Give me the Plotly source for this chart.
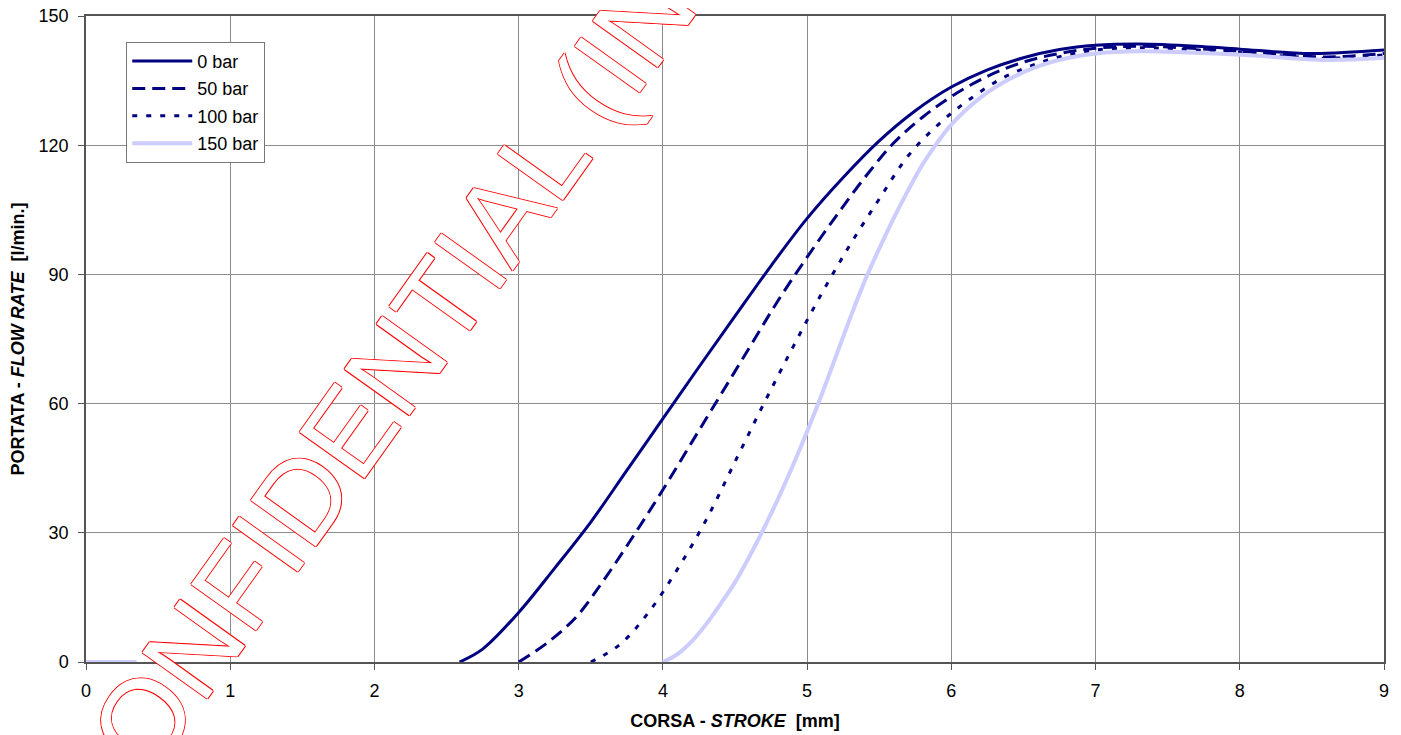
"""Flow rate vs stroke curves at different pressures."""

import plotly.graph_objects as go

NAVY = "#000080"
LAVENDER = "#CCCCFF"
GRID = "#8c8c8c"

# stroke [mm] / flow rate [l/min]
stroke_0bar = [2.59, 2.75, 3.0, 3.25, 3.5, 3.75, 4.0, 4.25, 4.5, 4.75, 5.0, 5.25,
               5.5, 5.75, 6.0, 6.25, 6.5, 6.75, 7.0, 7.3, 7.7, 8.0, 8.5, 9.0]
flow_0bar = [0, 3, 11.5, 21.8, 32.5, 44.5, 56.5, 68.5, 80.3, 92, 103, 112.5,
             121, 128, 133.5, 137.5, 140.3, 142.2, 143.2, 143.5, 143, 142.3, 141.3, 142.1]

stroke_50bar = [3.0, 3.2, 3.4, 3.6, 3.8, 4.0, 4.2, 4.4, 4.6, 4.8, 5.0, 5.2,
                5.4, 5.6, 5.8, 6.0, 6.25, 6.5, 6.75, 7.0, 7.3, 8.0, 8.6, 9.0]
flow_50bar = [0, 4.5, 10.5, 19.5, 29.5, 40, 51, 62, 73, 84, 94, 103.5,
              112.5, 120.5, 126.5, 131.3, 136, 139.3, 141.3, 142.5, 143, 141.8, 140.5, 141.3]

stroke_100bar = [3.5, 3.7, 3.9, 4.1, 4.3, 4.5, 4.7, 4.9, 5.1, 5.3, 5.5, 5.7,
                 5.9, 6.1, 6.35, 6.6, 6.85, 7.1, 7.4, 8.0, 8.6, 9.0]
flow_100bar = [0, 4, 11.5, 21.5, 33, 46.5, 60, 73, 85.5, 97, 107.5, 117.5,
               124.5, 130, 135.5, 139, 141.3, 142.4, 142.6, 141.5, 140.2, 141]

stroke_150bar = [0, 0.35, None, 4.0, 4.1, 4.2, 4.3, 4.4, 4.5, 4.6, 4.7, 4.8, 4.9,
                 5.0, 5.1, 5.2, 5.3, 5.4, 5.5, 5.6, 5.7, 5.8, 5.9, 6.0, 6.2,
                 6.4, 6.6, 6.8, 7.0, 7.3, 8.0, 8.6, 9.0]
flow_150bar = [0, 0, None, 0, 1.8, 4.8, 8.8, 13.5, 18.5, 24.5, 31, 38, 45.5,
               53.5, 62, 71, 80, 88.5, 96, 103, 109.5, 115.5, 120.5, 124.8, 131,
               135.3, 138.3, 140.2, 141.3, 141.8, 141, 139.8, 140.3]

X_TICKS = list(range(0, 10))
Y_TICKS = [0, 30, 60, 90, 120, 150]

SERIES = [
    ("0 bar", stroke_0bar, flow_0bar, dict(color=NAVY, width=3)),
    ("50 bar", stroke_50bar, flow_50bar, dict(color=NAVY, width=3, dash="13px,7px")),
    ("100 bar", stroke_100bar, flow_100bar, dict(color=NAVY, width=3, dash="5px,9px")),
    ("150 bar", stroke_150bar, flow_150bar, dict(color=LAVENDER, width=4)),
]

_FAMILY = "Liberation Sans, Arial, sans-serif"
_FONT = dict(family=_FAMILY, size=18, color="black")
_AXIS = dict(
    showgrid=True, gridcolor=GRID, gridwidth=1,
    showline=True, linecolor="#555555", linewidth=1.5, mirror=True,
    ticks="outside", ticklen=6, tickcolor="#555555",
    zeroline=False, tickfont=_FONT, automargin=False,
    ticklabeloverflow="allow", ticklabelstandoff=6,
)

fig = go.Figure()
for i, (name, xs, ys, line) in enumerate(SERIES):
    fig.add_trace(
        go.Scatter(
            x=xs, y=ys, name=name, mode="lines",
            line=dict(shape="spline", smoothing=1.0, **line),
            legendgroup=f"g{i}", connectgaps=False,
        )
    )

# red outlined watermark across the chart
fig.add_annotation(
    text="CONFIDENTIAL (INTERNAL USE)",
    xref="paper", yref="paper", x=0.388, y=0.879,
    xanchor="center", yanchor="middle",
    textangle=-54.5, showarrow=False,
    font=dict(
        family=_FAMILY, size=116, color="white",
        shadow="1px 0 0 red, -1px 0 0 red, 0 1px 0 red, 0 -1px 0 red",
    ),
)

# page body adds an 8px margin, so the figure is 8px smaller than the window
fig.update_layout(
    width=1393, height=727,
    margin=dict(l=78, r=17, t=8, b=73),
    paper_bgcolor="white", plot_bgcolor="white",
    font=_FONT,
    showlegend=True,
    legend=dict(
        x=0.031, y=0.96, xanchor="left", yanchor="top",
        bgcolor="white", bordercolor="#777777", borderwidth=1,
        font=_FONT, tracegroupgap=1, itemwidth=60,
    ),
    xaxis=dict(
        range=[0, 9], tickvals=X_TICKS,
        title=dict(text="<b>CORSA - <i>STROKE</i>  [mm]</b>", font=_FONT, standoff=14),
        **_AXIS,
    ),
    yaxis=dict(
        range=[0, 150], tickvals=Y_TICKS,
        title=dict(text="<b>PORTATA - <i>FLOW RATE</i>  [l/min.]</b>", font=_FONT, standoff=14),
        **_AXIS,
    ),
)

fig.write_html("out.html")
